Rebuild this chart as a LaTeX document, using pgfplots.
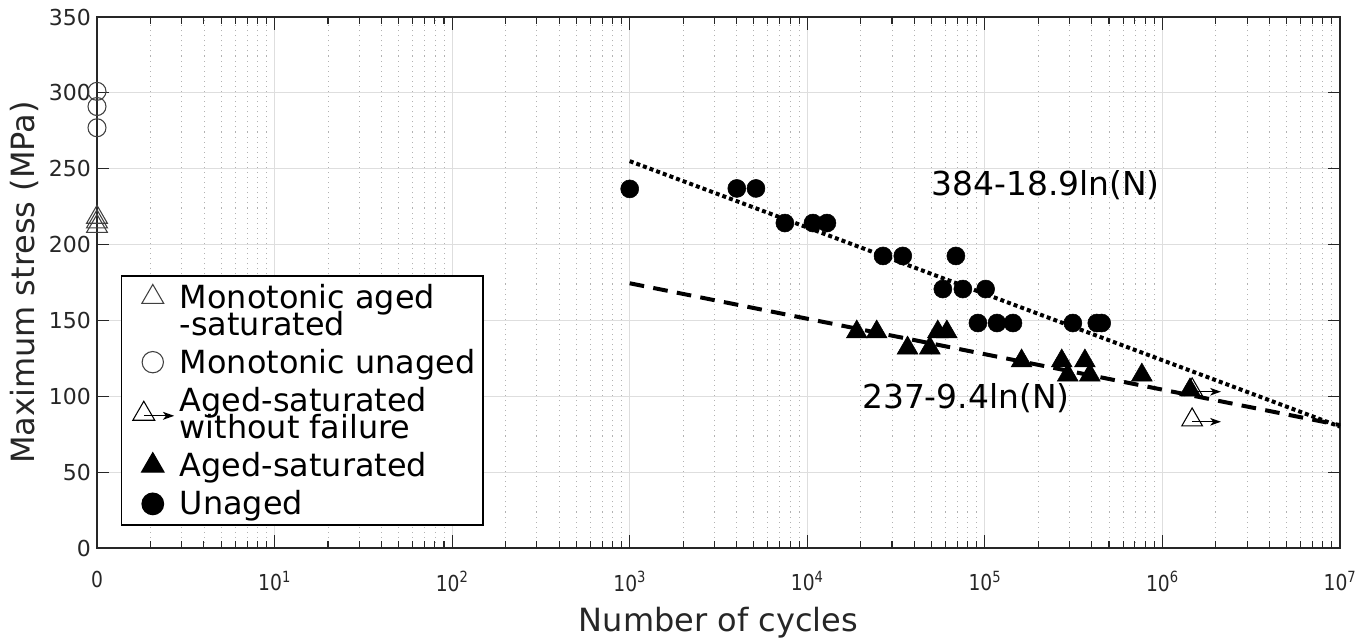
\documentclass[border=0pt]{standalone}
\usepackage{fontspec}
\setmainfont{DejaVu Sans}
\usepackage{pgfplots}
\pgfplotsset{compat=1.18}

\pgfdeclareplotmark{runout}{%
  \pgfpathmoveto{\pgfqpoint{0pt}{\pgfplotmarksize}}%
  \pgfpathlineto{\pgfqpoint{-0.866\pgfplotmarksize}{-0.5\pgfplotmarksize}}%
  \pgfpathlineto{\pgfqpoint{0.866\pgfplotmarksize}{-0.5\pgfplotmarksize}}%
  \pgfpathclose
  \pgfusepathqstroke
  \pgfpathmoveto{\pgfqpoint{0pt}{-0.15\pgfplotmarksize}}%
  \pgfpathlineto{\pgfqpoint{1.8\pgfplotmarksize}{-0.15\pgfplotmarksize}}%
  \pgfusepathqstroke
  \pgfpathmoveto{\pgfqpoint{2.4\pgfplotmarksize}{-0.15\pgfplotmarksize}}%
  \pgfpathlineto{\pgfqpoint{1.5\pgfplotmarksize}{0.17\pgfplotmarksize}}%
  \pgfpathlineto{\pgfqpoint{1.75\pgfplotmarksize}{-0.15\pgfplotmarksize}}%
  \pgfpathlineto{\pgfqpoint{1.5\pgfplotmarksize}{-0.47\pgfplotmarksize}}%
  \pgfpathclose
  \pgfusepathqfill
}

\definecolor{axcol}{HTML}{262626}
\newcommand\legfont{\fontsize{23.9}{20.3}\selectfont\lineskiplimit=-30pt\relax\lineskip=0pt\relax}

\pgfplotsset{
  legtri/.style={legend image code/.code={\draw[##1, mark size=9.5pt] plot coordinates {(0pt,0pt)}; \path (-18.75pt,0pt) (17.75pt,0pt);}},
  legcirc/.style={legend image code/.code={\draw[##1, mark size=8pt] plot coordinates {(0pt,0pt)}; \path (-18.75pt,0pt) (17.75pt,0pt);}},
  legup/.style={legend image code/.code={\draw[##1, mark size=9.5pt] plot coordinates {(0pt,10pt)}; \path (-18.75pt,0pt) (17.75pt,0pt);}},
  legleft/.style={legend image code/.code={\draw[##1, mark size=9.5pt] plot coordinates {(-6.75pt,0pt)}; \path (-18.75pt,0pt) (17.75pt,0pt);}},
}

\begin{document}
\begin{tikzpicture}[x=0.75pt,y=0.75pt]
\begin{axis}[
  at={(0,0)}, anchor=south west,
  scale only axis, width=932.25pt, height=398.25pt,
  xmode=log, xmin=1, xmax=1e7, ymin=0, ymax=350,
  clip=false,
  xtick={1,10,100,1000,10000,100000,1000000,10000000},
  xticklabels={0,10\textsuperscript{1},10\textsuperscript{2},10\textsuperscript{3},10\textsuperscript{4},10\textsuperscript{5},10\textsuperscript{6},10\textsuperscript{7}},
  ytick={0,50,...,350},
  /pgf/number format/assume math mode=true,
  xmajorgrids, xminorgrids, ymajorgrids,
  major grid style={color=black!13, line width=0.7pt},
  minor grid style={color=black!30, line width=0.6pt, dash pattern=on 0.8pt off 3pt},
  tick align=inside,
  major tick length=9.4pt, minor tick length=5pt,
  axis line style={color=axcol, line width=0.9pt},
  every tick/.style={color=axcol, line width=0.8pt},
  tick label style={color=axcol},
  yticklabel style={font=\fontsize{16.5}{16.5}\selectfont, xshift=-1pt},
  xticklabel style={font=\fontsize{16.5}{16.5}\selectfont, xscale=0.85, yshift=-14pt},
  xlabel={Number of cycles},
  ylabel={Maximum stress (MPa)},
  label style={color=axcol, font=\fontsize{24}{24}\selectfont},
  xlabel style={at={(axis description cs:0.5,-0.14)}, anchor=center},
  ylabel style={at={(axis description cs:-0.058,0.5)}, anchor=center},
  legend cell align=left,
  legend style={at={(axis description cs:0.0193,0.514)}, anchor=north west,
    draw=black, line width=1.1pt, fill=white,
    font=\legfont,
    inner xsep=4pt, inner ysep=4pt, row sep=5pt,
    nodes={align=left, inner sep=2pt}},
  legtri,
]
% regression lines
\addplot[forget plot, black, line width=3pt, dash pattern=on 3pt off 2.3pt] coordinates {(1000,255) (10000000,80)};
\addplot[forget plot, black, line width=3pt, dash pattern=on 11pt off 7pt] coordinates {(1000,174.5) (10000000,81)};

% Monotonic aged-saturated
\addplot[only marks, mark=triangle, mark size=9pt, mark options={draw=black!75, line width=0.8pt, fill=none}, legup]
  coordinates {(1,212) (1,215) (1,218)};
\addlegendentry{Monotonic aged\\-saturated}
% Monotonic unaged
\addplot[only marks, mark=o, mark size=6.75pt, mark options={draw=black!75, line width=0.8pt}, legcirc]
  coordinates {(1,277) (1,291) (1,301)};
\addlegendentry{Monotonic unaged}
% Runouts
\addplot[only marks, mark=runout, mark size=9pt, mark options={draw=black, fill=black, line width=0.8pt}, legleft]
  coordinates {(1470000,104.2) (1470000,84.4)};
\addlegendentry{Aged-saturated\\without failure}
% Aged-saturated
\addplot[only marks, mark=triangle*, mark size=9pt, mark options={draw=black, fill=black}, legtri]
  coordinates {
  (19000,142.4) (24600,142.4) (36700,131.8) (49000,131.8) (54300,142.4) (61100,142.4)
  (161000,123.3) (271000,123.3) (366000,123.3) (293000,114) (390000,114)
  (766000,114) (1430000,104.2)};
\addlegendentry{Aged-saturated}
% Unaged
\addplot[only marks, mark=*, mark size=6.75pt, mark options={draw=black, fill=black}, legcirc]
  coordinates {
  (1000,236.7) (4010,237) (5140,237)
  (7480,214.2) (10760,214.2) (12900,214.2)
  (26700,192.5) (34500,192.5) (68700,192.5)
  (58000,170.7) (75200,170.7) (101000,170.7)
  (91400,148.3) (117000,148.3) (144000,148.3) (313000,148.3) (427000,148.3) (455000,148.3)};
\addlegendentry{Unaged}

\node[font=\fontsize{24.7}{24.7}\selectfont, anchor=center] at (axis cs:220000,239.3) {384-18.9ln(N)};
\node[font=\fontsize{24.7}{24.7}\selectfont, anchor=center] at (axis cs:78200,98.9) {237-9.4ln(N)};
\end{axis}
\pgfresetboundingbox
\path (-97,-92) rectangle (1268,548);
\end{tikzpicture}
\end{document}
